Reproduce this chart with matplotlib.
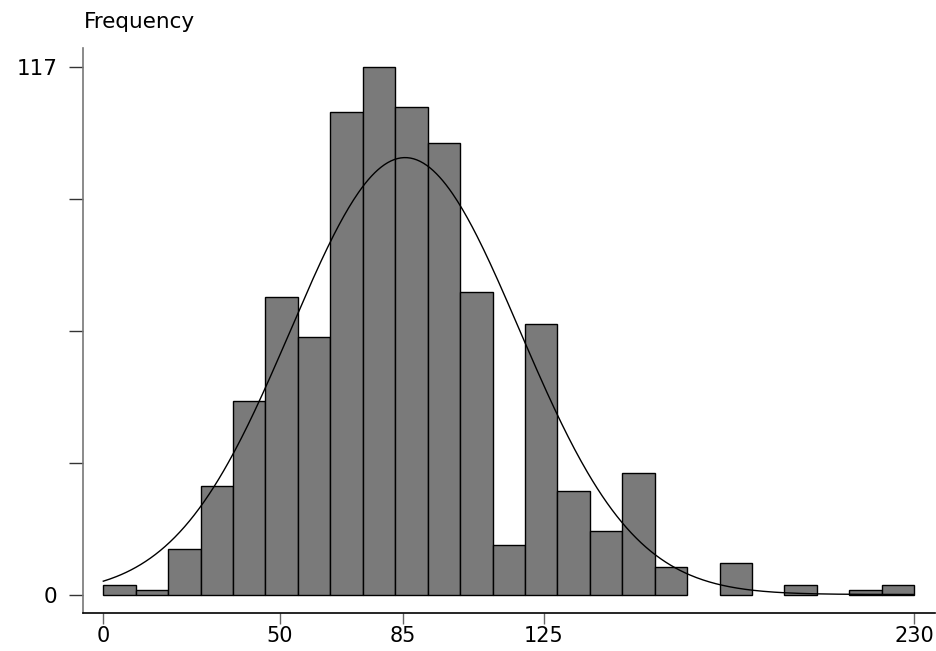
import numpy as np
import matplotlib
matplotlib.use("Agg")
import matplotlib.pyplot as plt

plt.rcParams['font.family'] = ['DejaVu Sans']

# Data
bin_start = 0.0
bin_end = 230.0
n_bins = 25
counts = [2, 1, 10, 24, 43, 66, 57, 107, 117, 108, 100, 67, 11, 60, 23, 14, 27, 6, 0, 7, 0, 2, 0, 1, 2]
fit_mean = 85.6
fit_sd = 32.4
xtick_vals = [0, 50, 85, 125, 230]
ytick_vals = [0, 29.25, 58.5, 87.75, 117]
ytick_labels = ['0', '', '', '', '117']

W, H = 937, 651
fig = plt.figure(figsize=(W / 100, H / 100), dpi=100)
ax = fig.add_axes([83 / W, (H - 613) / H, (935 - 83) / W, (613 - 48) / H])

edges = np.linspace(bin_start, bin_end, n_bins + 1)
width = edges[1] - edges[0]
for i, c in enumerate(counts):
    if c > 0:
        ax.bar(edges[i], c, width=width, align='edge', color='#7a7a7a',
               edgecolor='black', linewidth=1.0, zorder=2)

N = sum(counts)
xs = np.linspace(bin_start, bin_end, 500)
ys = N * width * np.exp(-0.5 * ((xs - fit_mean) / fit_sd) ** 2) / (fit_sd * np.sqrt(2 * np.pi))
ax.plot(xs, ys, color='black', linewidth=1.0, zorder=3)

ax.set_xlim(-5.76, 235.9)
ax.set_ylim(-4.1, 121.15)

ax.spines['top'].set_visible(False)
ax.spines['right'].set_visible(False)
ax.spines['left'].set_color('#777777')
ax.spines['bottom'].set_color('black')
ax.spines['left'].set_linewidth(1.2)
ax.spines['bottom'].set_linewidth(1.2)

ax.set_xticks(xtick_vals)
ax.set_xticklabels([str(v) for v in xtick_vals])
ax.set_yticks(ytick_vals)
ax.set_yticklabels(ytick_labels)
ax.tick_params(axis='x', length=8, width=1, color='#666666', pad=1.5, labelsize=15)
ax.tick_params(axis='y', length=10, width=1, color='#333333', pad=8.5, labelsize=15.5)

fig.text(84 / W, (H - 28) / H, 'Frequency', fontsize=15.5, ha='left', va='baseline')

fig.savefig('out.png', dpi=100, facecolor='white')
